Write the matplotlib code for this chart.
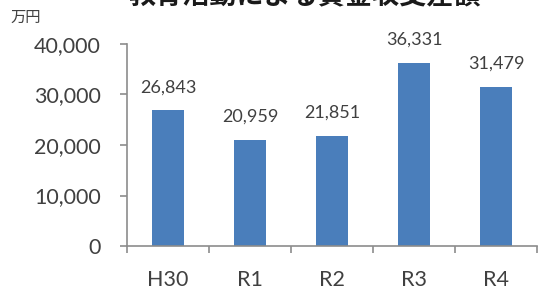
import matplotlib
matplotlib.use("Agg")
import matplotlib.pyplot as plt
from matplotlib.ticker import FuncFormatter, FixedLocator

categories = ["H30", "R1", "R2", "R3", "R4"]
values = [26843, 20959, 21851, 36331, 31479]
yticks = [0, 10000, 20000, 30000, 40000]
title = "教育活動による資金収支差額"
unit = "万円"

W, H = 538, 289
fig = plt.figure(figsize=(W / 100, H / 100), dpi=100)
ax = fig.add_axes([127 / W, 1 - 246 / H, 410 / W, 202 / H])

bar_color = "#4a7ebb"
text_color = "#404040"
axis_color = "#8c8c8c"
lat = ["Lato", "DejaVu Sans"]

x = list(range(len(categories)))
ax.bar(x, values, width=0.4, color=bar_color, zorder=2)
for xi, v in zip(x, values):
    ax.annotate(f"{v:,}", (xi, v), xytext=(0, 11), textcoords="offset points",
                ha="center", va="bottom", fontsize=13, color=text_color, family=lat)

ax.set_xlim(-0.5, len(categories) - 0.5)
ax.set_ylim(0, 40000)
ax.set_yticks(yticks)
ax.yaxis.set_major_formatter(FuncFormatter(lambda v, p: f"{int(v):,}"))
ax.set_xticks(x)
ax.set_xticklabels(categories)
ax.xaxis.set_minor_locator(FixedLocator([i - 0.5 for i in range(len(categories) + 1)]))

for s in ["top", "right"]:
    ax.spines[s].set_visible(False)
for s in ["left", "bottom"]:
    ax.spines[s].set_color(axis_color)
    ax.spines[s].set_linewidth(1.2)

ax.tick_params(axis="x", which="major", length=0, pad=17, labelsize=15.5, labelcolor=text_color)
ax.tick_params(axis="x", which="minor", length=5, color=axis_color, width=1.2, direction="out")
ax.tick_params(axis="y", length=5, color=axis_color, width=1.2, direction="out", pad=14,
               labelsize=15.5, labelcolor=text_color)
for lbl in ax.get_xticklabels() + ax.get_yticklabels():
    lbl.set_family(lat)

fig.text(10 / W, 1 - 17 / H, unit, ha="left", va="center", fontsize=11,
         color=text_color, family=["Noto Sans CJK JP", "DejaVu Sans"])
fig.text(305 / W, 1 + 5 / H, title, ha="center", va="center", fontsize=19.5,
         fontweight="bold", color="#1a1a1a", family=["Noto Sans CJK JP", "DejaVu Sans"])

fig.savefig("out.png", dpi=100, facecolor="white")
